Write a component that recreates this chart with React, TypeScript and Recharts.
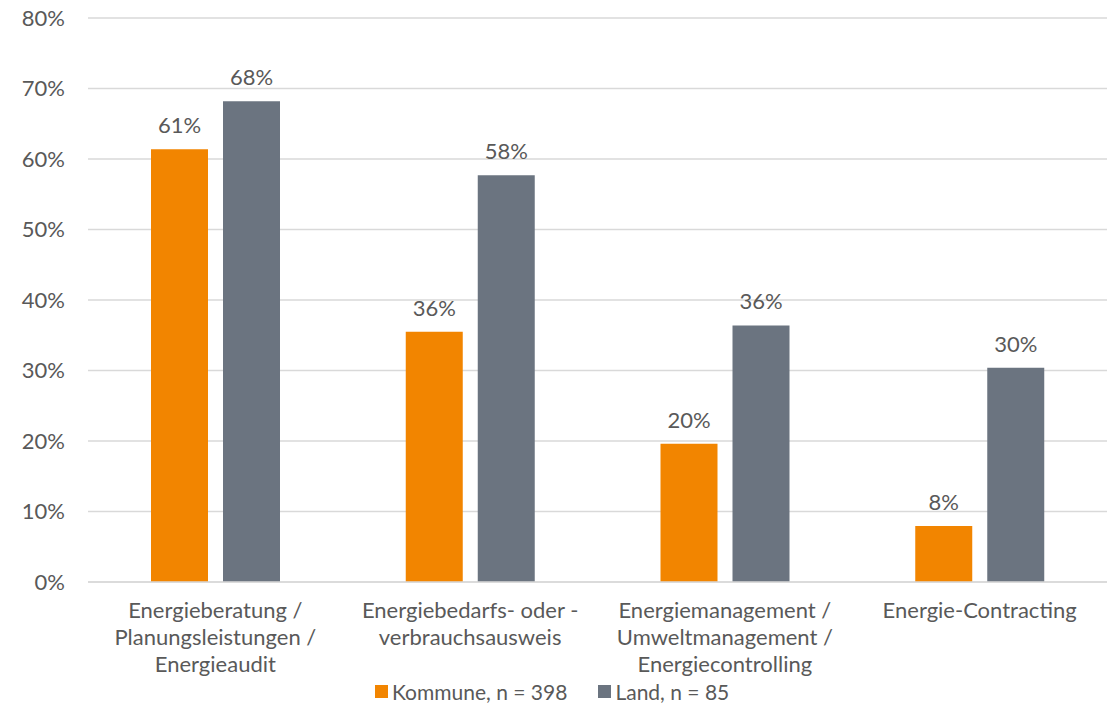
import React from "react";
import { BarChart, Bar, XAxis, YAxis, CartesianGrid, LabelList } from "recharts";

// values in percent
const categories: string[] = [
    "Energieberatung / Planungsleistungen / Energieaudit",
    "Energiebedarfs- oder -verbrauchsausweis",
    "Energiemanagement / Umweltmanagement / Energiecontrolling",
    "Energie-Contracting",
];
const categoryLines: string[][] = [
    ["Energieberatung /", "Planungsleistungen /", "Energieaudit"],
    ["Energiebedarfs- oder -", "verbrauchsausweis"],
    ["Energiemanagement /", "Umweltmanagement /", "Energiecontrolling"],
    ["Energie-Contracting"],
];
const kommune: number[] = [61.4, 35.5, 19.6, 7.95];
const land: number[] = [68.2, 57.7, 36.4, 30.4];
const yTicks: number[] = [0, 10, 20, 30, 40, 50, 60, 70, 80];

const seriesNames = ["Kommune, n = 398", "Land, n = 85"];
const ORANGE = "#F28500";
const GREY = "#6B7480";
const TEXT = "#595959";
const FONT = "Lato, 'Open Sans', sans-serif";
const FS = 22;

const data = categories.map((c, i) => ({ name: c, kommune: kommune[i], land: land[i] }));

const CategoryTick = (props: any) => {
    const { x, y, payload } = props;
    const lines = categoryLines[payload.index] || [payload.value];
    return (
        <text x={x} y={y} textAnchor="middle" fill={TEXT} fontSize={FS} fontFamily={FONT}>
            {lines.map((l, i) => (
                <tspan key={i} x={x} dy={i === 0 ? 36 : 27}>{l}</tspan>
            ))}
        </text>
    );
};

const pct = (v: any) => `${Math.round(Number(v))}%`;

export default function App() {
    return (
        <div style={{ position: "absolute", left: 0, top: 0, width: 1112, height: 704, background: "#fff" }}>
            <BarChart
                width={1112}
                height={704}
                data={data}
                margin={{ top: 18, right: 5, bottom: 0, left: 0 }}
                barGap={15}
            >
                <CartesianGrid vertical={false} stroke="#D9D9D9" strokeWidth={1.5} />
                <XAxis
                    dataKey="name"
                    interval={0}
                    tickLine={false}
                    tickSize={0}
                    tickMargin={0}
                    axisLine={{ stroke: "#D9D9D9", strokeWidth: 1.5 }}
                    tick={<CategoryTick />}
                    height={122}
                />
                <YAxis
                    width={88}
                    domain={[0, 80]}
                    ticks={yTicks}
                    tickFormatter={(v) => `${v}%`}
                    axisLine={false}
                    tickLine={false}
                    tickSize={0}
                    tickMargin={23}
                    tick={{ fill: TEXT, fontSize: FS, fontFamily: FONT }}
                />
                <Bar dataKey="kommune" name={seriesNames[0]} fill={ORANGE} barSize={57} isAnimationActive={false}>
                    <LabelList dataKey="kommune" position="top" offset={16} formatter={pct}
                        style={{ fill: TEXT, fontSize: FS, fontFamily: FONT }} />
                </Bar>
                <Bar dataKey="land" name={seriesNames[1]} fill={GREY} barSize={57} isAnimationActive={false}>
                    <LabelList dataKey="land" position="top" offset={16} formatter={pct}
                        style={{ fill: TEXT, fontSize: FS, fontFamily: FONT }} />
                </Bar>
            </BarChart>
            <div style={{ position: "absolute", left: 375, top: 680, display: "flex", alignItems: "center",
                fontFamily: FONT, fontSize: 21, lineHeight: "23px", color: TEXT, whiteSpace: "nowrap" }}>
                <span style={{ width: 13, height: 13, background: ORANGE, display: "inline-block", marginRight: 4 }} />
                <span style={{ marginRight: 31 }}>{seriesNames[0]}</span>
                <span style={{ width: 13, height: 13, background: GREY, display: "inline-block", marginRight: 4 }} />
                <span>{seriesNames[1]}</span>
            </div>
        </div>
    );
}
